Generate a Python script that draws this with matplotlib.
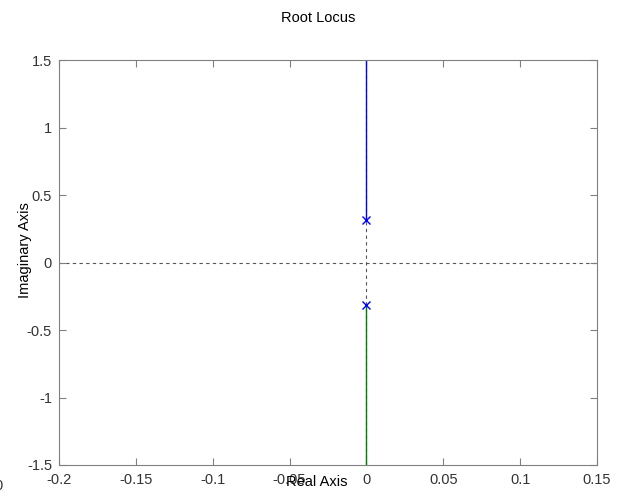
import numpy as np
import matplotlib.pyplot as plt

plt.rcParams['font.family'] = ['Liberation Sans', 'DejaVu Sans']

# poles of the system (open-loop), locus goes straight up / down the imaginary axis
pole_re = [0.0, 0.0]
pole_im = [0.316, -0.316]
branch1_im = [0.316, 1.6]    # blue branch
branch2_im = [-0.316, -1.6]  # green branch

xticks = [-0.2, -0.15, -0.1, -0.05, 0, 0.05, 0.1, 0.15]
yticks = [-1.5, -1, -0.5, 0, 0.5, 1, 1.5]
xticklabels = ['-0.2', '-0.15', '-0.1', '-0.05', '0', '0.05', '0.1', '0.15']
yticklabels = ['-1.5', '-1', '-0.5', '0', '0.5', '1', '1.5']

fs = 10.5

fig = plt.figure(figsize=(6.24, 4.97), dpi=100)
ax = fig.add_axes([0.0946, 0.0644, 0.862, 0.8146])

# dashed axis lines
ax.axhline(0, color='#555555', ls=(0, (3, 3)), lw=0.8, zorder=1)
ax.axvline(0, color='#555555', ls=(0, (3, 3)), lw=0.8, zorder=1)

ax.plot([0, 0], branch1_im, color='blue', lw=1.0, zorder=2)
ax.plot([0, 0], branch2_im, color='#008000', lw=1.0, zorder=2)
ax.plot(pole_re, pole_im, 'x', color='blue', ms=5.5, mew=1.0, zorder=3)

ax.set_xlim(-0.2, 0.15)
ax.set_ylim(-1.5, 1.5)
ax.set_xticks(xticks)
ax.set_xticklabels(xticklabels)
ax.set_yticks(yticks)
ax.set_yticklabels(yticklabels)
ax.tick_params(direction='in', top=True, right=True, length=5, width=0.8,
               labelsize=fs, colors='#808080', labelcolor='#333333')
ax.tick_params(axis='x', pad=6)
ax.tick_params(axis='y', pad=5)
for s in ax.spines.values():
    s.set_color('#808080')
    s.set_linewidth(0.8)

ax.set_title('Root Locus', fontsize=fs, x=0.481, y=1.094, pad=0)
ax.set_xlabel('Real Axis', fontsize=fs)
ax.xaxis.set_label_coords(0.48, -0.024)
ax.set_ylabel('Imaginary Axis', fontsize=fs)
ax.yaxis.set_label_coords(-0.051, 0.531)

# clipped leftover label at bottom left
fig.text(-0.009, 0.014, '0', fontsize=fs, color='#333333')

fig.savefig('out.png', dpi=100)
